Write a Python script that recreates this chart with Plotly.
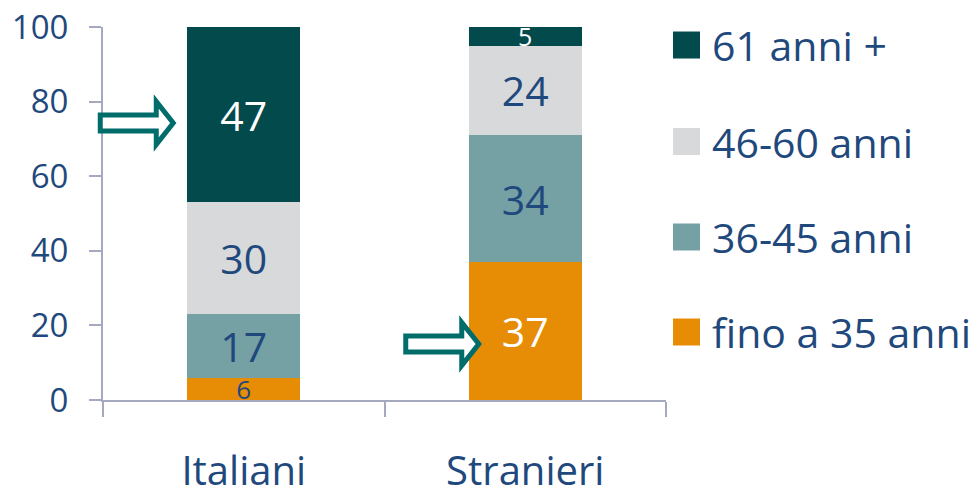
import plotly.graph_objects as go

# ---- data ----
categories = ["Italiani", "Stranieri"]
series_names = ["fino a 35 anni", "36-45 anni", "46-60 anni", "61 anni +"]
fino_35 = [6, 37]
anni_36_45 = [17, 34]
anni_46_60 = [30, 24]
anni_61_plus = [47, 5]
y_ticks = [0, 20, 40, 60, 80, 100]

series_values = [fino_35, anni_36_45, anni_46_60, anni_61_plus]

# ---- style ----
FONT = "Open Sans"
BLUE = "#1F497D"
AXIS = "#A4A9BF"
colors = ["#E68C05", "#75A0A4", "#D8D9DB", "#024A4B"]
label_colors = [[BLUE, "white"], [BLUE, BLUE], [BLUE, BLUE], ["white", "white"]]
label_sizes = [[26, 41], [41, 41], [41, 41], [41, 25]]

fig = go.Figure()
for name, vals, col, lc, ls in zip(series_names, series_values, colors, label_colors, label_sizes):
    fig.add_trace(go.Bar(
        x=categories, y=vals, name=name,
        marker=dict(color=col, line=dict(width=0)),
        text=[str(v) for v in vals],
        textposition="inside", insidetextanchor="middle",
        constraintext="none", textangle=0,
        textfont=dict(family=FONT, color=lc, size=ls),
        width=0.4, showlegend=False,
    ))

# manual legend (top to bottom: reversed series order)
row_y = [0.1823, 0.4370, 0.6930, 0.9517]
for name, col, yc in zip(series_names, colors, row_y):
    fig.add_shape(type="rect", xref="paper", yref="paper",
                  x0=1.0124, x1=1.0604, y0=yc - 0.0362, y1=yc + 0.0362,
                  fillcolor=col, line=dict(width=0))
    fig.add_annotation(text=name, xref="paper", yref="paper", x=1.078, y=yc,
                       xanchor="left", yanchor="middle", showarrow=False,
                       font=dict(family=FONT, size=41, color=BLUE))

# outlined arrows
def arrow_path(s, h, t, a, b):
    return (f"M{s},{-a} L{h},{-a} L{h},{-b} L{t},0 L{h},{b} "
            f"L{h},{a} L{s},{a} Z")

for xa, ya, s in [(0.25, 0.7426, -143.5), (0.75, 0.1501, -119.5)]:
    fig.add_shape(type="path", xref="x domain", yref="y domain",
                  xsizemode="pixel", ysizemode="pixel",
                  xanchor=xa, yanchor=ya,
                  path=arrow_path(s, s + 56, s + 73, 8, 21.5),
                  fillcolor="white", line=dict(color="#006D6B", width=5))

fig.update_layout(
    barmode="stack",
    width=980, height=494, autosize=False,
    margin=dict(l=103, r=314, t=27, b=94),
    plot_bgcolor="white", paper_bgcolor="white",
    font=dict(family=FONT, color=BLUE),
    xaxis=dict(showline=True, linecolor=AXIS, linewidth=2,
               ticks="outside", tickson="boundaries", ticklen=15,
               tickcolor=AXIS, tickwidth=2, showgrid=False,
               tickfont=dict(family=FONT, size=40, color=BLUE),
               ticklabelstandoff=35, automargin=False,
               ticklabeloverflow="allow"),
    yaxis=dict(range=[0, 100], tickvals=y_ticks, showline=True,
               linecolor=AXIS, linewidth=2, ticks="outside", ticklen=12,
               tickcolor=AXIS, tickwidth=2, showgrid=False, zeroline=False,
               tickfont=dict(family=FONT, size=33, color=BLUE),
               ticklabelstandoff=14, automargin=False,
               ticklabeloverflow="allow"),
)

# remove the default 8 px page margin so the 980x494 figure fills the window
fig.write_html("out.html", config={"displayModeBar": False},
               post_script="document.body.style.margin='0';")
